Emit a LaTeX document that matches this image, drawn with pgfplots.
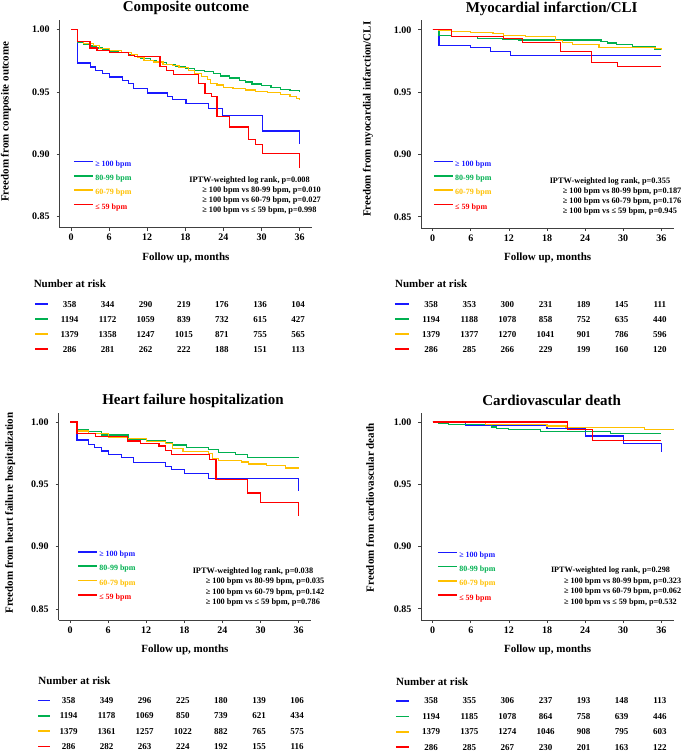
\documentclass[border=0pt]{standalone}
\usepackage{pgfplots}
\pgfplotsset{compat=1.18}
\usepackage{fontspec}
\setmainfont{Liberation Serif}
\definecolor{cblue}{RGB}{25,25,255}
\definecolor{cgreen}{RGB}{0,176,80}
\definecolor{cyellow}{RGB}{255,192,0}
\definecolor{cred}{RGB}{255,0,0}
\pgfplotsset{
 kmaxis/.style={
   scale only axis, width=252.7pt, height=207.5pt,
   xmin=-1.8, xmax=38, ymin=0.841, ymax=1.0075, clip=false,
   axis x line*=bottom, axis y line*=left,
   axis line style={draw=black!75, line width=0.8pt},
   xtick={0,6,...,36}, ytick={0.85,0.90,0.95,1.00},
   tick align=outside, major tick length=3pt,
   tick style={black!75, line width=0.8pt},
   /pgf/number format/assume math mode=true,
   ticklabel style={font=\bfseries\fontsize{10}{12}\selectfont},
   yticklabel style={xshift=-3.5pt, /pgf/number format/fixed, /pgf/number format/fixed zerofill, /pgf/number format/precision=2},
   xlabel={Follow up, months},
   xlabel style={at={(axis description cs:0.5,0)}, anchor=center, yshift=-30pt, font=\bfseries\fontsize{11}{13}\selectfont},
   ylabel style={anchor=center, font=\bfseries\fontsize{11}{13}\selectfont},
   title style={at={(axis description cs:0.5,1)}, anchor=center, yshift=6pt, font=\bfseries\fontsize{15}{18}\selectfont},
   legend style={draw=none, fill=none, inner sep=0pt, anchor=north west,
     font=\bfseries\fontsize{8}{10}\selectfont, row sep=2.8pt,
     nodes={inner sep=1.5pt, text height=6.5pt, text depth=2pt}},
   legend cell align=left,
   legend image code/.code={\draw[#1, line width=1.6pt] (0pt,2.5pt) -- (19pt,2.5pt);},
   every axis plot/.append style={const plot, line width=1.2pt, mark=none},
 },
 risk/.style={
   scale only axis, width=252.7pt, xmin=-1.8, xmax=38, ymin=0.5, ymax=4.5,
   y dir=reverse, hide axis, clip=false
 },
 risknums/.style={draw=none, mark=none, nodes near coords, point meta=explicit symbolic,
   every node near coord/.append style={anchor=center, black, xshift=-1.5pt,
   font=\bfseries\fontsize{9}{11}\selectfont}},
}
\newcommand{\ptext}[4]{IPTW-weighted log rank, p=#1\\\hspace*{13pt}≥ 100 bpm vs 80-99 bpm, p=#2\\\hspace*{13pt}≥ 100 bpm vs 60-79 bpm, p=#3\\\hspace*{13pt}≥ 100 bpm vs ≤ 59 bpm, p=#4}
\newcommand{\legs}{%
\addlegendentry{\textcolor{cblue}{≥ 100 bpm}}
\addlegendentry{\textcolor{cgreen}{80-99 bpm}}
\addlegendentry{\textcolor{cyellow}{60-79 bpm}}
\addlegendentry{\textcolor{cred}{≤ 59 bpm}}}
\begin{document}
\begin{tikzpicture}
\useasboundingbox (0pt,0pt) rectangle (685pt,752pt);
% ---------------- Panel 1
\begin{axis}[kmaxis, at={(59.6pt,524.2pt)}, anchor=south west,
  title={Composite outcome},
  ylabel={Freedom from composite outcome},
  ylabel style={at={(axis description cs:-0.212,0.511)}},
  legend style={at={(axis description cs:0.053,0.336)}}]
\addplot[cblue] coordinates {(0,1) (1,0.9732) (3.1,0.970) (3.9,0.9673) (4.9,0.9646) (6.0,0.962) (8.1,0.9593) (9.1,0.9566) (9.9,0.9526) (12.0,0.9491) (15.2,0.9464) (16.0,0.9437) (18.1,0.9405) (21.7,0.9365) (23.8,0.9311) (30.1,0.9186) (36,0.9084)};
\addplot[cgreen] coordinates {(0,1) (1,0.9901) (2,0.9885) (3,0.9868) (4,0.9852) (5,0.9838) (6,0.9828) (7.5,0.9815) (9,0.980) (10,0.9785) (11,0.977) (12.5,0.9755) (13.5,0.9735) (15,0.972) (16.5,0.9705) (18,0.969) (19.5,0.9675) (21,0.9662) (22.5,0.9645) (23.5,0.9628) (25,0.9612) (26.5,0.9595) (27.5,0.958) (28.5,0.9563) (30,0.955) (31.5,0.9537) (33,0.9522) (34.5,0.951) (36,0.9503)};
\addplot[cyellow] coordinates {(0,1) (1,0.9905) (2,0.989) (3.5,0.987) (4.5,0.985) (6,0.983) (8,0.9815) (9.5,0.980) (10.5,0.978) (11.5,0.9755) (13,0.974) (14.5,0.9722) (16,0.971) (17,0.9695) (18.5,0.967) (19.5,0.965) (20.5,0.9625) (21.5,0.9598) (22,0.957) (23,0.9555) (24,0.9535) (25.5,0.9525) (27.5,0.9515) (29,0.9505) (31,0.9495) (33,0.948) (34.5,0.9465) (35.5,0.945) (36,0.9432)};
\addplot[cred] coordinates {(0,1) (1,0.9906) (3.0,0.9853) (4.1,0.983) (6,0.9818) (9.1,0.979) (10,0.9786) (14.0,0.9705) (15.0,0.967) (16.2,0.9642) (20.1,0.9571) (21.1,0.949) (22.1,0.9465) (23.0,0.930) (25.0,0.9218) (28.0,0.9116) (29.0,0.9078) (30.1,0.9003) (36,0.8888)};
\legs
\node[anchor=north west, align=left, inner sep=0pt, font=\bfseries\fontsize{8.3}{10}\selectfont] at (axis cs:18.6,0.8818) {\ptext{0.008}{0.010}{0.027}{0.998}};
\end{axis}
\begin{axis}[risk, at={(59.6pt,395.2pt)}, anchor=south west, height=60pt]
\addplot[cblue, line width=1.6pt] coordinates {(-5.6,1) (-3.7,1)};
\addplot[cgreen, line width=1.6pt] coordinates {(-5.6,2) (-3.7,2)};
\addplot[cyellow, line width=1.6pt] coordinates {(-5.6,3) (-3.7,3)};
\addplot[cred, line width=1.6pt] coordinates {(-5.6,4) (-3.7,4)};
\addplot[risknums] table[meta=n] {
x r n
0 1 358
6 1 344
12 1 290
18 1 219
24 1 176
30 1 136
36 1 104
0 2 1194
6 2 1172
12 2 1059
18 2 839
24 2 732
30 2 615
36 2 427
0 3 1379
6 3 1358
12 3 1247
18 3 1015
24 3 871
30 3 755
36 3 565
0 4 286
6 4 281
12 4 262
18 4 222
24 4 188
30 4 151
36 4 113
};
\node[anchor=west, inner sep=0pt, font=\bfseries\fontsize{11}{13}\selectfont] at (axis cs:-5.9,-0.35) {Number at risk};
\end{axis}
% ---------------- Panel 2
\begin{axis}[kmaxis, at={(421.3pt,524pt)}, anchor=south west,
  title={Myocardial infarction/CLI}, title style={xshift=4pt},
  ylabel={Freedom from myocardial infarction/CLI},
  ylabel style={at={(axis description cs:-0.211,0.524)}},
  legend style={at={(axis description cs:0.046,0.337)}}]
\addplot[cblue] coordinates {(0,1) (1,0.9877) (6.0,0.9857) (9.1,0.9824) (12.2,0.9793) (36,0.9793)};
\addplot[cgreen] coordinates {(0,1) (1,0.9957) (3,0.9944) (7,0.9932) (11,0.9925) (13.5,0.9918) (26.5,0.9905) (27.5,0.9895) (29,0.9885) (31.5,0.9864) (35,0.9843) (36,0.9843)};
\addplot[cyellow] coordinates {(0,1) (1,0.9992) (3,0.9985) (5.9,0.9976) (9.5,0.9968) (11.2,0.9957) (14.6,0.9947) (19.3,0.9915) (20.5,0.990) (22,0.9885) (26.2,0.986) (35,0.9848) (36,0.9843)};
\addplot[cred] coordinates {(0,1) (3,0.9944) (11.2,0.9932) (14.1,0.9901) (20.1,0.9826) (25.0,0.9735) (29.1,0.9703) (36,0.9703)};
\legs
\node[anchor=north west, align=left, inner sep=0pt, font=\bfseries\fontsize{8.3}{10}\selectfont] at (axis cs:18.4,0.8816) {\ptext{0.355}{0.187}{0.176}{0.945}};
\end{axis}
\begin{axis}[risk, at={(421.3pt,395.2pt)}, anchor=south west, height=60pt]
\addplot[cblue, line width=1.6pt] coordinates {(-5.95,1) (-3.7,1)};
\addplot[cgreen, line width=1.6pt] coordinates {(-5.95,2) (-3.7,2)};
\addplot[cyellow, line width=1.6pt] coordinates {(-5.95,3) (-3.7,3)};
\addplot[cred, line width=1.6pt] coordinates {(-5.95,4) (-3.7,4)};
\addplot[risknums] table[meta=n] {
x r n
0 1 358
6 1 353
12 1 300
18 1 231
24 1 189
30 1 145
36 1 111
0 2 1194
6 2 1188
12 2 1078
18 2 858
24 2 752
30 2 635
36 2 440
0 3 1379
6 3 1377
12 3 1270
18 3 1041
24 3 901
30 3 786
36 3 596
0 4 286
6 4 285
12 4 266
18 4 229
24 4 199
30 4 160
36 4 120
};
\node[anchor=west, inner sep=0pt, font=\bfseries\fontsize{11}{13}\selectfont] at (axis cs:-5.95,-0.35) {Number at risk};
\end{axis}
% ---------------- Panel 3
\begin{axis}[kmaxis, at={(58.6pt,131.8pt)}, anchor=south west,
  title={Heart failure hospitalization}, title style={xshift=8pt},
  ylabel={Freedom from heart failure hospitalization},
  ylabel style={at={(axis description cs:-0.192,0.516)}},
  legend style={at={(axis description cs:0.073,0.346)}}]
\addplot[cblue] coordinates {(0,1) (1.1,0.9856) (2.9,0.982) (3.9,0.9794) (4.9,0.9768) (6,0.9742) (8.1,0.9715) (10,0.9678) (15,0.9643) (16,0.9622) (18,0.959) (21.8,0.955) (36,0.9444)};
\addplot[cgreen] coordinates {(0,1) (1.1,0.9936) (2.9,0.9923) (5,0.9896) (9.2,0.9864) (12,0.9848) (15,0.9835) (16.2,0.9816) (18.3,0.9798) (21.8,0.9777) (23.4,0.9758) (26,0.9737) (27.9,0.9715) (36,0.9715)};
\addplot[cyellow] coordinates {(0,1) (1.1,0.9928) (2.9,0.991) (6,0.9875) (9,0.9865) (12,0.9845) (15,0.9829) (16.2,0.9789) (17.8,0.9765) (21.8,0.9745) (22.5,0.971) (23.4,0.969) (27,0.968) (28.1,0.9664) (31,0.965) (33.9,0.9632) (36,0.962)};
\addplot[cred] coordinates {(0,1) (1.1,0.9909) (4,0.9882) (9,0.9848) (11.1,0.983) (14,0.9808) (15,0.9774) (16,0.9742) (22,0.970) (23,0.9537) (28,0.943) (30,0.9356) (36,0.9245)};
\legs
\node[anchor=north west, align=left, inner sep=0pt, font=\bfseries\fontsize{8.3}{10.5}\selectfont] at (axis cs:19.3,0.8835) {\ptext{0.038}{0.035}{0.142}{0.786}};
\end{axis}
\begin{axis}[risk, at={(58.6pt,-2.2pt)}, anchor=south west, height=61.2pt]
\addplot[cblue, line width=1.6pt] coordinates {(-5.0,1) (-3.2,1)};
\addplot[cgreen, line width=1.6pt] coordinates {(-5.0,2) (-3.2,2)};
\addplot[cyellow, line width=1.6pt] coordinates {(-5.0,3) (-3.2,3)};
\addplot[cred, line width=1.6pt] coordinates {(-5.0,4) (-3.2,4)};
\addplot[risknums] table[meta=n] {
x r n
0 1 358
6 1 349
12 1 296
18 1 225
24 1 180
30 1 139
36 1 106
0 2 1194
6 2 1178
12 2 1069
18 2 850
24 2 739
30 2 621
36 2 434
0 3 1379
6 3 1361
12 3 1257
18 3 1022
24 3 882
30 3 765
36 3 575
0 4 286
6 4 282
12 4 263
18 4 224
24 4 192
30 4 155
36 4 116
};
\node[anchor=west, inner sep=0pt, font=\bfseries\fontsize{11}{13}\selectfont] at (axis cs:-5.0,-0.29) {Number at risk};
\end{axis}
% ---------------- Panel 4
\begin{axis}[kmaxis, at={(421.3pt,131.9pt)}, anchor=south west,
  title={Cardiovascular death}, title style={xshift=4pt},
  ylabel={Freedom from cardiovascular death},
  ylabel style={at={(axis description cs:-0.203,0.542)}},
  legend style={at={(axis description cs:0.062,0.343)}}]
\addplot[cblue] coordinates {(0,1) (5.1,0.9974) (18,0.9946) (24,0.9888) (30.1,0.9826) (36,0.9755)};
\addplot[cgreen] coordinates {(0,1) (1,0.9992) (2.5,0.9982) (9.2,0.996) (10.1,0.9949) (11.9,0.994) (17,0.9922) (28,0.9907) (36,0.9907)};
\addplot[cyellow] coordinates {(0,1) (1,0.9995) (8.3,0.9982) (18,0.9968) (21,0.9955) (33.3,0.9942) (38,0.9942)};
\addplot[cred] coordinates {(0,1) (21.2,0.9942) (25.1,0.9848) (36,0.9848)};
\legs
\node[anchor=north west, align=left, inner sep=0pt, font=\bfseries\fontsize{8.2}{10.5}\selectfont] at (axis cs:18.6,0.8836) {\ptext{0.298}{0.323}{0.062}{0.532}};
\end{axis}
\begin{axis}[risk, at={(421.3pt,-2.9pt)}, anchor=south west, height=61.6pt]
\addplot[cblue, line width=1.6pt] coordinates {(-5.8,1) (-3.7,1)};
\addplot[cgreen, line width=1.6pt] coordinates {(-5.8,2) (-3.7,2)};
\addplot[cyellow, line width=1.6pt] coordinates {(-5.8,3) (-3.7,3)};
\addplot[cred, line width=1.6pt] coordinates {(-5.8,4) (-3.7,4)};
\addplot[risknums] table[meta=n] {
x r n
0 1 358
6 1 355
12 1 306
18 1 237
24 1 193
30 1 148
36 1 113
0 2 1194
6 2 1185
12 2 1078
18 2 864
24 2 758
30 2 639
36 2 446
0 3 1379
6 3 1375
12 3 1274
18 3 1046
24 3 908
30 3 795
36 3 603
0 4 286
6 4 285
12 4 267
18 4 230
24 4 201
30 4 163
36 4 122
};
\node[anchor=west, inner sep=0pt, font=\bfseries\fontsize{11}{13}\selectfont] at (axis cs:-5.8,-0.23) {Number at risk};
\end{axis}
\end{tikzpicture}
\end{document}
